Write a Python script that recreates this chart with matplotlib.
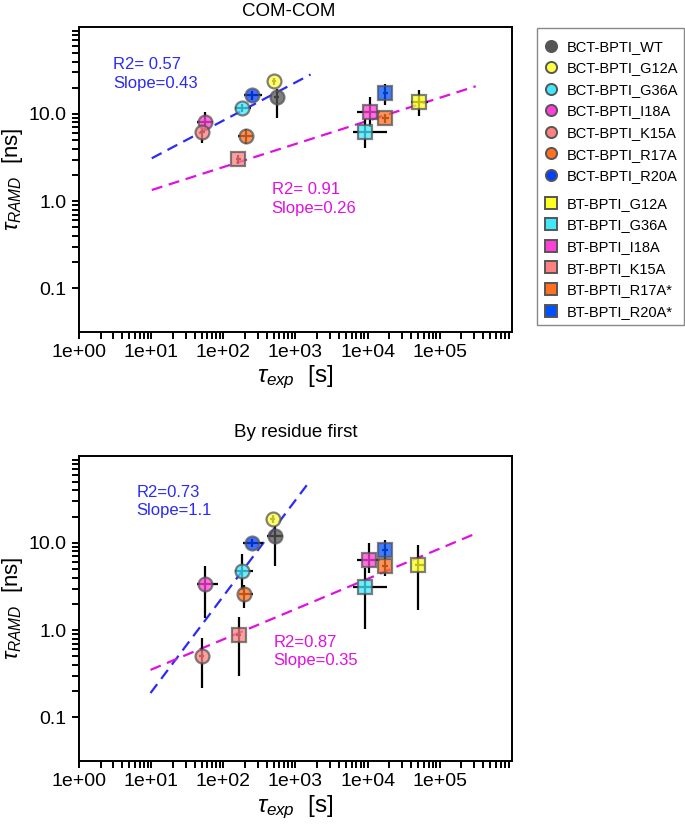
import matplotlib
matplotlib.use("Agg")
import numpy as np
import matplotlib.pyplot as plt
from matplotlib.lines import Line2D
from matplotlib.patches import Rectangle
from matplotlib.ticker import FixedLocator, LogLocator, FuncFormatter, NullFormatter

plt.rcParams["font.family"] = ["Liberation Sans", "DejaVu Sans"]
plt.rcParams["mathtext.fontset"] = "custom"
plt.rcParams["mathtext.rm"] = "Liberation Sans"
plt.rcParams["mathtext.it"] = "Liberation Sans:italic"

# --- labels / colours ---
names_bct = ["BCT-BPTI_WT", "BCT-BPTI_G12A", "BCT-BPTI_G36A", "BCT-BPTI_I18A",
             "BCT-BPTI_K15A", "BCT-BPTI_R17A", "BCT-BPTI_R20A"]
colors_bct = ["#555555", "#ffff40", "#40e8ff", "#ff40d8", "#ff8080", "#ff7020", "#0040ff"]
names_bt = ["BT-BPTI_G12A", "BT-BPTI_G36A", "BT-BPTI_I18A", "BT-BPTI_K15A",
            "BT-BPTI_R17A*", "BT-BPTI_R20A*"]
colors_bt = ["#ffff20", "#40e8ff", "#ff40d8", "#ff8080", "#ff7020", "#0050ff"]

# --- COM-COM panel ---
com_bct_x = [547, 502, 183, 55.6, 51, 204, 254]
com_bct_xlo = [500, 470, 145, 43.5, 47, 161, 195]
com_bct_xhi = [600, 540, 245, 71, 56, 259, 340]
com_bct_y = [15.8, 23.8, 11.7, 8.15, 6.26, 5.53, 16.6]
com_bct_ylo = [8.9, 21.5, 10.5, 6.5, 4.7, 4.5, 14.5]
com_bct_yhi = [19.4, 26.0, 13.0, 10.4, 7.5, 6.7, 18.5]

com_bt_x = [51650, 9130, 10700, 161, 17700, 17700]
com_bt_xlo = [40500, 6300, 7160, 150, 16000, 16500]
com_bt_xhi = [68900, 18600, 14750, 175, 19500, 19000]
com_bt_y = [13.9, 6.25, 10.5, 3.03, 8.9, 17.5]
com_bt_ylo = [9.6, 4.1, 7.1, 2.7, 7.8, 12.7]
com_bt_yhi = [18.6, 8.7, 15.5, 3.4, 10.0, 22.2]

com_fit_bct_x = [10.2, 1620]
com_fit_bct_y = [3.1, 28.4]
com_fit_bt_x = [10.2, 315000]
com_fit_bt_y = [1.34, 20.8]
com_text_bct = "R2= 0.57\nSlope=0.43"
com_text_bt = "R2= 0.91\nSlope=0.26"

# --- By residue first panel ---
res_bct_x = [524, 482, 179, 55.6, 50, 195, 251]
res_bct_xlo = [400, 450, 145, 43, 46, 165, 187]
res_bct_xhi = [680, 515, 257, 85, 54, 260, 355]
res_bct_y = [12.1, 19.0, 4.8, 3.38, 0.51, 2.6, 10.0]
res_bct_ylo = [5.4, 17.0, 2.9, 1.37, 0.215, 1.78, 9.0]
res_bct_yhi = [15.8, 21.0, 7.5, 5.4, 0.81, 3.3, 11.0]

res_bt_x = [50700, 9240, 10300, 163, 17500, 17500]
res_bt_xlo = [45000, 6200, 7100, 150, 16000, 16000]
res_bt_xhi = [60000, 18500, 14700, 176, 19000, 19000]
res_bt_y = [5.6, 3.09, 6.4, 0.87, 5.38, 8.4]
res_bt_ylo = [1.68, 1.02, 4.5, 0.30, 4.2, 6.7]
res_bt_yhi = [9.5, 5.1, 10.1, 1.43, 7.0, 10.7]

res_fit_bct_x = [9.8, 1580]
res_fit_bct_y = [0.19, 51]
res_fit_bt_x = [9.8, 315000]
res_fit_bt_y = [0.35, 12.8]
res_text_bct = "R2=0.73\nSlope=1.1"
res_text_bt = "R2=0.87\nSlope=0.35"

BLUE = "#2b2bf5"
MAGENTA = "#e010e0"


def draw_group(ax, x, xlo, xhi, y, ylo, yhi, colors, marker, ms):
    x = np.array(x); y = np.array(y)
    xerr = [x - np.array(xlo), np.array(xhi) - x]
    yerr = [y - np.array(ylo), np.array(yhi) - y]
    ax.errorbar(x, y, xerr=xerr, yerr=yerr, fmt="none", ecolor="k",
                elinewidth=1.6, capsize=0, zorder=2)
    for xi, yi, c in zip(x, y, colors):
        ax.plot(xi, yi, marker=marker, ms=ms, mfc=c, mec="#555555", mew=1.6,
                alpha=0.75, ls="none", zorder=3)


def plot_panel(ax, title, title_x, pad, bct, bt, fit_bct, fit_bt, txt_bct, txt_bct_pos,
               txt_bt, txt_bt_pos):
    ax.plot(fit_bct[0], fit_bct[1], color=BLUE, lw=1.6, ls=(0, (5, 3)), zorder=1)
    ax.plot(fit_bt[0], fit_bt[1], color=MAGENTA, lw=1.6, ls=(0, (5, 3)), zorder=1)
    draw_group(ax, *bct, colors_bct, "o", 10)
    draw_group(ax, *bt, colors_bt, "s", 10.5)

    ax.text(*txt_bct_pos, txt_bct, color=BLUE, fontsize=12, va="top", ha="left",
            transform=ax.transAxes, linespacing=1.3)
    ax.text(*txt_bt_pos, txt_bt, color=MAGENTA, fontsize=12, va="top", ha="left",
            transform=ax.transAxes, linespacing=1.3)

    ax.set_xscale("log")
    ax.set_yscale("log")
    ax.set_xlim(1, 1e6)
    ax.set_ylim(10 ** -1.5, 100)
    ax.xaxis.set_major_locator(FixedLocator([1, 10, 100, 1e3, 1e4, 1e5]))
    ax.xaxis.set_major_formatter(FuncFormatter(lambda v, p: "%.0e" % v))
    ax.xaxis.set_minor_locator(LogLocator(base=10, subs=np.arange(2, 10), numticks=20))
    ax.xaxis.set_minor_formatter(NullFormatter())
    ax.yaxis.set_major_locator(FixedLocator([0.1, 1, 10]))
    ax.yaxis.set_major_formatter(FuncFormatter(lambda v, p: "%.1f" % v))
    ax.yaxis.set_minor_locator(FixedLocator(
        [k * 10.0 ** e for e in (-1, 0, 1) for k in range(2, 10)]))
    ax.yaxis.set_minor_formatter(NullFormatter())
    ax.tick_params(which="both", direction="out", length=5, width=1.4,
                   labelsize=14, pad=4)
    for s in ax.spines.values():
        s.set_linewidth(1.4)

    ax.set_xlabel(r"$\tau_{exp}$  [s]", fontsize=17.5, labelpad=2)
    ax.set_ylabel(r"$\tau_{RAMD}$  [ns]", fontsize=16)
    ax.yaxis.set_label_coords(-0.125, 0.5)
    ax.set_title(title, fontsize=13.5, pad=pad, x=title_x)


fig = plt.figure(figsize=(6.85, 8.24), dpi=100)
ax1 = fig.add_axes([0.1153, 0.5974, 0.632, 0.370])
ax2 = fig.add_axes([0.1153, 0.0765, 0.632, 0.3705])

plot_panel(ax1, "COM-COM", 0.485, 8,
           (com_bct_x, com_bct_xlo, com_bct_xhi, com_bct_y, com_bct_ylo, com_bct_yhi),
           (com_bt_x, com_bt_xlo, com_bt_xhi, com_bt_y, com_bt_ylo, com_bt_yhi),
           (com_fit_bct_x, com_fit_bct_y), (com_fit_bt_x, com_fit_bt_y),
           com_text_bct, (0.079, 0.90), com_text_bt, (0.445, 0.49))
plot_panel(ax2, "By residue first", 0.5, 13.5,
           (res_bct_x, res_bct_xlo, res_bct_xhi, res_bct_y, res_bct_ylo, res_bct_yhi),
           (res_bt_x, res_bt_xlo, res_bt_xhi, res_bt_y, res_bt_ylo, res_bt_yhi),
           (res_fit_bct_x, res_fit_bct_y), (res_fit_bt_x, res_fit_bt_y),
           res_text_bct, (0.133, 0.905), res_text_bt, (0.449, 0.413))

# --- legend (two blocks in one frame) ---
fig.patches.append(Rectangle((0.784, 0.6056), 0.2146, 0.36, transform=fig.transFigure,
                             facecolor="white", edgecolor="#888888", lw=1.0))
h_bct = [Line2D([0], [0], marker="o", ls="none", ms=8, mfc=c, mec="#555555", mew=1.4)
         for c in colors_bct]
h_bt = [Line2D([0], [0], marker="s", ls="none", ms=8, mfc=c, mec="#555555", mew=1.4)
        for c in colors_bt]
leg_kw = dict(loc="upper left", frameon=False, fontsize=10.5, borderpad=0,
              handlelength=1.0, handletextpad=0.6, labelspacing=0.52)
fig.legend(h_bct, names_bct, bbox_to_anchor=(0.7825, 0.9607), **leg_kw)
fig.legend(h_bt, names_bt, bbox_to_anchor=(0.7825, 0.770), **leg_kw)

fig.savefig("out.png", dpi=100)
